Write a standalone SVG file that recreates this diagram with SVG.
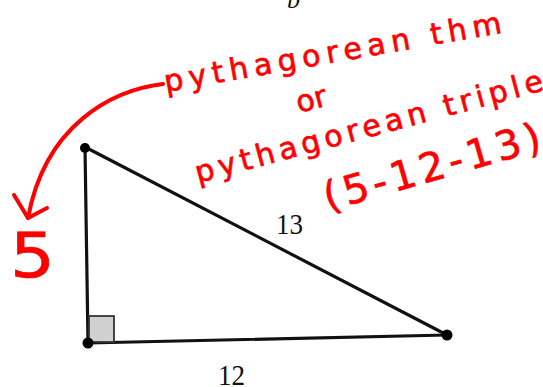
<svg xmlns="http://www.w3.org/2000/svg" width="543" height="387" viewBox="0 0 543 387">
  <style>
    .edge { stroke: #111; stroke-width: 3.2; fill: none; stroke-linecap: round; }
    .dot { fill: #000; }
    .lbl { font-family: "Liberation Serif", "Times New Roman", serif; fill: #111; }
    .hand { font-family: "DejaVu Sans", "Noto Sans", sans-serif; fill: #ff0000; stroke: #ff0000; stroke-width: 0.7; stroke-linejoin: round; }
    .ink { stroke: #ff0000; stroke-width: 4; fill: none; stroke-linecap: round; stroke-linejoin: round; }
  </style>
  <rect width="543" height="387" fill="#ffffff"/>
  <text class="lbl" x="287" y="8" font-size="26" font-style="italic" fill="#1a1a3a">b</text>

  <g id="connectors">
    <line class="edge" x1="85" y1="147" x2="88" y2="343"/>
    <line class="edge" x1="88" y1="343" x2="447" y2="335"/>
    <line class="edge" x1="85" y1="147" x2="447" y2="335"/>
  </g>

  <g id="right-angle">
    <rect x="89" y="316" width="25" height="26" fill="#d0d0d0" stroke="#333" stroke-width="1.8"/>
  </g>

  <g id="vertex-top"><circle class="dot" cx="85" cy="148" r="5"/></g>
  <g id="vertex-bottom-left"><circle class="dot" cx="88" cy="343" r="5.5"/></g>
  <g id="vertex-right"><circle class="dot" cx="447" cy="335" r="5.5"/></g>

  <g id="label-13">
    <text class="lbl" x="276" y="234" font-size="30" textLength="27" lengthAdjust="spacingAndGlyphs">13</text>
  </g>
  <g id="label-12">
    <text class="lbl" x="218" y="385" font-size="30" textLength="27" lengthAdjust="spacingAndGlyphs">12</text>
  </g>

  <g id="annotation">
    <text class="hand" x="166" y="92" font-size="30" textLength="342" lengthAdjust="spacing" transform="rotate(-10 166 92)">pythagorean thm</text>
    <text class="hand" x="299" y="113" font-size="30" transform="rotate(-15 299 113)">or</text>
    <text class="hand" x="198" y="183" font-size="30" textLength="359" lengthAdjust="spacing" transform="rotate(-15 198 183)">pythagorean triple</text>
    <text class="hand" x="328" y="211" font-size="40" textLength="224" lengthAdjust="spacing" transform="rotate(-16 328 211)">(5-12-13)</text>
    <text class="hand" x="10" y="277" font-size="62" textLength="45" lengthAdjust="spacingAndGlyphs" stroke-width="0">5</text>
  </g>

  <g id="arrow">
    <path class="ink" d="M163,84 C112,90 45,125 28,218"/>
    <polyline class="ink" points="14,195 28,218 47,208"/>
  </g>
</svg>
